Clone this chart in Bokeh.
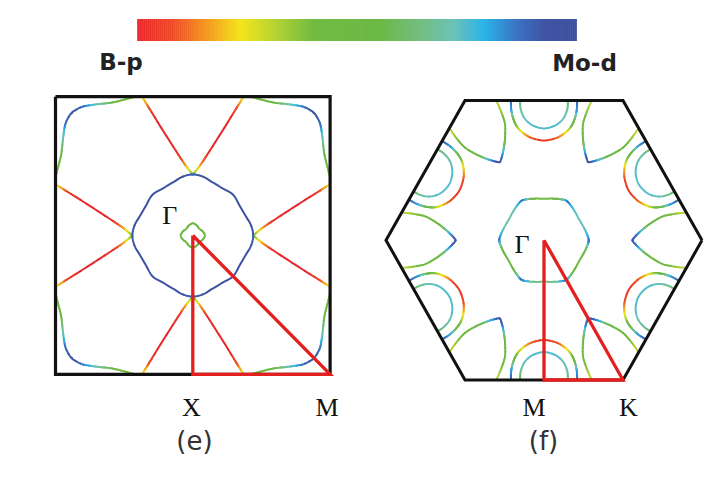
import numpy as np
from bokeh.plotting import figure
from bokeh.models import Range1d, ColumnDataSource
from bokeh.core.properties import value
from bokeh.embed import file_html
from bokeh.resources import INLINE

# ---------------- colour scale (B-p -> Mo-d) ----------------
CMAP_POS = [0.0, 0.08, 0.16, 0.235, 0.31, 0.40, 0.55, 0.65, 0.72, 0.79, 0.87, 0.93, 1.0]
CMAP_HEX = ["#e8252b", "#ec4a27", "#f39a1f", "#f3e51c", "#b8d433", "#72bb43",
            "#6cb946", "#72be84", "#6cc2b8", "#2ab4e8", "#3b6fc0", "#3c52a3", "#3b4ea0"]
CBAR_LABELS = ["B-p", "Mo-d"]

# ---------------- panel (e): square zone ----------------
E_BZ_X = [-1, 1, 1, -1, -1]
E_BZ_Y = [1, 1, -1, -1, 1]
E_PATH_X = [0, 0, 1, 0]          # Γ - X - M - Γ
E_PATH_Y = [0, -1, -1, 0]
E_PATH_LABELS = ["Γ", "X", "M"]

# pocket around X (left half, from zone edge to the cusp on the Γ loop)
E_POCKET_X = [-0.37, -0.31, -0.245, -0.178, -0.11, -0.053, 0.0]
E_POCKET_Y = [1.0, 0.905, 0.80, 0.695, 0.59, 0.505, 0.44]
E_POCKET_C = [0.27, 0.06, 0.0, 0.0, 0.02, 0.16, 0.38]

# sheet around the M corner (from top edge to the diagonal)
E_CORNER_X = [-0.417, -0.489, -0.587, -0.709, -0.806, -0.867, -0.882]
E_CORNER_Y = [1.0, 0.982, 0.958, 0.944, 0.927, 0.896, 0.882]
E_CORNER_C = [0.30, 0.45, 0.55, 0.72, 0.88, 0.92, 0.93]

# Γ-centred loops (one octant, angle in degrees from +x)
E_OUTER_T = [90, 100, 110, 122, 135]
E_OUTER_R = [0.44, 0.43, 0.41, 0.403, 0.415]
E_OUTER_C = [0.90, 0.93, 0.93, 0.93, 0.93]
E_INNER_T = [90, 112, 135]
E_INNER_R = [0.088, 0.078, 0.068]
E_INNER_C = [0.45, 0.50, 0.55]

# ---------------- panel (f): hexagonal zone ----------------
F_BZ_ANG = [0, 60, 120, 180, 240, 300]
F_PATH_X = [0, 0, 0.5, 0]        # Γ - M - K - Γ
F_PATH_Y = [0, -0.866, -0.866, 0]
F_PATH_LABELS = ["Γ", "M", "K"]

# Γ loop: half sector around a vertex (deg from vertex), radius, vertex weight
F_GAMMA_T = [0, 10, 20, 30]
F_GAMMA_R = [0.283, 0.272, 0.262, 0.257]
F_GAMMA_W = [1.0, 0.3, 0.0, 0.0]
F_GAMMA_VERTEX_C = 0.88
F_GAMMA_EDGE_C = [0.72, 0.45, 0.70, 0.50, 0.65, 0.50]   # edges at 30,90,...,330 deg

# pockets around M: s along M->Γ, t across
F_MOUT_S = [0.0, 0.06, 0.12, 0.17, 0.21, 0.235, 0.248]
F_MOUT_T = [0.21, 0.207, 0.192, 0.165, 0.12, 0.07, 0.0]
F_MOUT_C = [0.90, 0.82, 0.55, 0.32, 0.18, 0.08, 0.03]
F_MIN_S = [0.0, 0.05, 0.10, 0.135, 0.16, 0.173]
F_MIN_T = [0.152, 0.148, 0.13, 0.10, 0.06, 0.0]
F_MIN_C = [0.60, 0.68, 0.72, 0.74, 0.74, 0.74]

# lens around K: s along K->Γ, t across
F_K_S = [0.099, 0.139, 0.19, 0.253, 0.316, 0.361, 0.399, 0.424, 0.44]
F_K_T = [0.171, 0.168, 0.161, 0.146, 0.111, 0.079, 0.047, 0.022, 0.0]
F_K_C = [0.30, 0.32, 0.38, 0.45, 0.50, 0.60, 0.80, 0.90, 0.93]

# ---------------- layout (page pixels) ----------------
E_CX, E_CY, E_SX, E_SY = 192.3, 235.0, 137.3, 138.8
F_CX, F_CY, F_SX, F_SY = 543.5, 239.75, 158.0, 161.4
CBAR_X0, CBAR_X1, CBAR_Y0, CBAR_Y1 = 136.7, 576.0, 18.5, 40.5

RGB = np.array([[int(h[i:i + 2], 16) for i in (1, 3, 5)] for h in CMAP_HEX], float)


def cmap(c):
    c = float(np.clip(c, 0, 1))
    r, g, b = (int(round(np.interp(c, CMAP_POS, RGB[:, k]))) for k in range(3))
    return "#%02x%02x%02x" % (r, g, b)


def smooth(xs, ys, cs, closed, n=12):
    P = np.column_stack([xs, ys]).astype(float)
    C = np.asarray(cs, float)
    if closed:
        Pp = np.vstack([P[-1], P, P[0], P[1]])
        Cp = np.concatenate([[C[-1]], C, [C[0], C[1]]])
        nseg = len(P)
    else:
        Pp = np.vstack([2 * P[0] - P[1], P, 2 * P[-1] - P[-2]])
        Cp = np.concatenate([[C[0]], C, [C[-1]]])
        nseg = len(P) - 1
    t = np.linspace(0, 1, n, endpoint=False)[:, None]
    out, cout = [], []
    for i in range(nseg):
        p0, p1, p2, p3 = Pp[i], Pp[i + 1], Pp[i + 2], Pp[i + 3]
        seg = 0.5 * ((2 * p1) + (-p0 + p2) * t + (2 * p0 - 5 * p1 + 4 * p2 - p3) * t ** 2
                     + (-p0 + 3 * p1 - 3 * p2 + p3) * t ** 3)
        out.append(seg)
        cout.append(Cp[i + 1] + (Cp[i + 2] - Cp[i + 1]) * t[:, 0])
    if closed:
        out.append(P[:1]); cout.append(C[:1])
    else:
        out.append(P[-1:]); cout.append(C[-1:])
    Q = np.vstack(out)
    return Q[:, 0], Q[:, 1], np.concatenate(cout)


LEV = 48
store = {"xs": [], "ys": [], "color": []}


def add_curve(xs, ys, cs, closed, mapper):
    X, Y, C = smooth(xs, ys, cs, closed)
    PX, PY = mapper(X, Y)
    lev = np.round(np.clip((C[:-1] + C[1:]) / 2, 0, 1) * LEV).astype(int)
    nseg = len(lev)
    start = 0
    for i in range(1, nseg + 1):
        if i == nseg or lev[i] != lev[start]:
            store["xs"].append(list(PX[start:i + 1]))
            store["ys"].append(list(PY[start:i + 1]))
            store["color"].append(cmap(lev[start] / LEV))
            start = i


def e_map(x, y):
    return E_CX + E_SX * np.asarray(x), E_CY - E_SY * np.asarray(y)


def f_map(u, v):
    return F_CX + F_SX * np.asarray(u), F_CY - F_SY * np.asarray(v)


def rot(x, y, deg):
    a = np.radians(deg)
    x = np.asarray(x, float); y = np.asarray(y, float)
    return x * np.cos(a) - y * np.sin(a), x * np.sin(a) + y * np.cos(a)


# ----- panel (e) curves -----
for q in range(4):
    for sgn in (1, -1):
        x, y = rot(sgn * np.array(E_POCKET_X), E_POCKET_Y, 90 * q)
        add_curve(x, y, E_POCKET_C, False, e_map)
    hx = list(E_CORNER_X); hy = list(E_CORNER_Y); hc = list(E_CORNER_C)
    mx = [-v for v in E_CORNER_Y][::-1][1:]
    my = [-v for v in E_CORNER_X][::-1][1:]
    mc = hc[::-1][1:]
    x, y = rot(hx + mx, hy + my, 90 * q)
    add_curve(x, y, hc + mc, False, e_map)


def d4_loop(T, R, Cc):
    ang, rad, col = [], [], []
    base_t = list(T) + [270 - t for t in T[::-1][1:-1]]
    base_r = list(R) + list(R[::-1][1:-1])
    base_c = list(Cc) + list(Cc[::-1][1:-1])
    for q in range(4):
        ang += [t + 90 * q for t in base_t]
        rad += base_r
        col += base_c
    a = np.radians(ang)
    return np.array(rad) * np.cos(a), np.array(rad) * np.sin(a), col


x, y, c = d4_loop(E_OUTER_T, E_OUTER_R, E_OUTER_C)
add_curve(x, y, c, True, e_map)
x, y, c = d4_loop(E_INNER_T, E_INNER_R, E_INNER_C)
add_curve(x, y, c, True, e_map)

# ----- panel (f) curves -----
g_ang, g_rad, g_col = [], [], []
for k in range(6):
    for sgn in (-1, 1):
        for t, r, w in zip(F_GAMMA_T, F_GAMMA_R, F_GAMMA_W):
            if sgn == -1 and t == 0:
                continue
            if sgn == 1 and t == 30:
                continue
            phi = 60 * k + sgn * t
            edge_idx = (k if sgn == 1 else k - 1) % 6
            g_ang.append(phi)
            g_rad.append(r)
            g_col.append(w * F_GAMMA_VERTEX_C + (1 - w) * F_GAMMA_EDGE_C[edge_idx])
order = np.argsort(np.mod(g_ang, 360))
ga = np.radians(np.mod(g_ang, 360))[order]
gr = np.array(g_rad)[order]
gc = np.array(g_col)[order]
add_curve(gr * np.cos(ga), gr * np.sin(ga), gc, True, f_map)


def pocket(center_r, ang_deg, S, T, Cc):
    a = np.radians(ang_deg)
    ox, oy = center_r * np.cos(a), center_r * np.sin(a)
    ax, ay = -np.cos(a), -np.sin(a)
    nx, ny = -np.sin(a), np.cos(a)
    s = np.array(list(S) + list(S[::-1][1:]))
    t = np.array(list(T) + [-v for v in T[::-1][1:]])
    c = list(Cc) + list(Cc[::-1][1:])
    return ox + s * ax + t * nx, oy + s * ay + t * ny, c


for k in range(6):
    x, y, c = pocket(0.866, 90 + 60 * k, F_MOUT_S, F_MOUT_T, F_MOUT_C)
    add_curve(x, y, c, False, f_map)
    x, y, c = pocket(0.866, 90 + 60 * k, F_MIN_S, F_MIN_T, F_MIN_C)
    add_curve(x, y, c, False, f_map)
    x, y, c = pocket(1.0, 60 * k, F_K_S, F_K_T, F_K_C)
    add_curve(x, y, c, False, f_map)

# ---------------- figure ----------------
p = figure(width=712, height=486, x_range=Range1d(0, 712), y_range=Range1d(486, 0),
           output_backend="svg", toolbar_location=None, min_border=0,
           x_axis_location=None, y_axis_location=None)
p.grid.visible = False
p.outline_line_color = None
p.background_fill_color = "white"
p.border_fill_color = "white"

# colour bar
NCB = 220
edges = np.linspace(CBAR_X0, CBAR_X1, NCB + 1)
p.quad(left=edges[:-1], right=edges[1:] + 0.4, bottom=CBAR_Y1, top=CBAR_Y0,
       fill_color=[cmap((i + 0.5) / NCB) for i in range(NCB)], line_color=None)
p.text(x=[120.5, 584.0], y=[61.5, 62.5], text=CBAR_LABELS,
       text_font=value("DejaVu Sans"), text_font_style="bold", text_font_size="23px",
       text_align="center", text_baseline="alphabetic", text_color="#222222")

# Fermi surface curves
p.multi_line(xs="xs", ys="ys", line_color="color", line_width=2.0, line_cap="round",
             line_join="round", source=ColumnDataSource(store))

# zone outlines
bx, by = e_map(E_BZ_X, E_BZ_Y)
p.line(bx, by, line_color="#111111", line_width=3.2, line_join="miter")
ha = np.radians(F_BZ_ANG + F_BZ_ANG[:1])
hx, hy = f_map(np.cos(ha), np.sin(ha))
p.line(hx, hy, line_color="#111111", line_width=3.0, line_join="miter")

# high-symmetry paths
ex, ey = e_map(E_PATH_X, E_PATH_Y)
p.line(ex, ey, line_color="#e3201f", line_width=3.3, line_join="miter")
fx, fy = f_map(F_PATH_X, F_PATH_Y)
p.line(fx, fy, line_color="#e3201f", line_width=3.3, line_join="miter")

# point labels
lab_x = [ex[0] - 23, ex[1] - 1.5, ex[2] - 3, fx[0] - 22, fx[1] - 10, fx[2] + 5.5]
lab_y = [ey[0] - 20.5, 406.5, 406.5, fy[0] + 4, 406.5, 406.5]
p.text(x=lab_x, y=lab_y, text=E_PATH_LABELS + F_PATH_LABELS,
       text_font=value("Liberation Serif"), text_font_size="26px",
       text_align="center", text_baseline="alphabetic", text_color="#111111")

# panel tags
p.text(x=[194.0, 543.0], y=[440.0, 440.0], text=["(e)", "(f)"],
       text_font=value("DejaVu Sans"), text_font_size="26px",
       text_align="center", text_baseline="middle", text_color="#333333")

open("out.html", "w").write(file_html(p, INLINE))
